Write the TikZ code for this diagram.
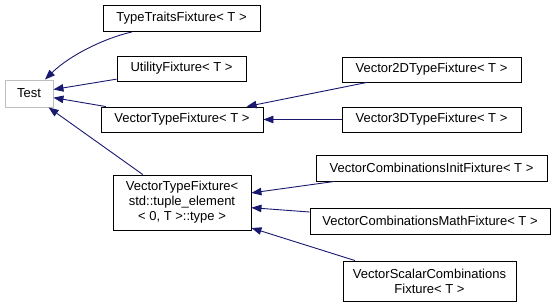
\documentclass[tikz,border=0pt]{standalone}
\usepackage{fontspec}
\setmainfont{Liberation Sans}
\usetikzlibrary{arrows.meta}
\definecolor{edgeblue}{RGB}{25,25,112}
\definecolor{basegray}{RGB}{191,191,191}
\tikzset{
  cls/.style={draw=black, line width=0.9pt, fill=white, inner sep=0pt,
    align=center, font=\fontsize{13pt}{15pt}\selectfont},
  extcls/.style={cls, draw=basegray},
  edge/.style={draw=edgeblue, line width=0.9pt,
    -{Triangle[length=10pt,width=7.5pt]}}
}
\begin{document}
\begin{tikzpicture}[x=1pt, y=-1pt]
  \useasboundingbox (0,0) rectangle (557,306);

  % base class
  \node[extcls, minimum width=48pt, minimum height=27pt] (test) at (29,93.5) {Test};

  % direct subclasses
  \node[cls, minimum width=157pt, minimum height=26pt] (tt) at (181.5,18.5) {TypeTraitsFixture< T >};
  \node[cls, minimum width=129pt, minimum height=25pt] (util) at (181.5,68.5) {UtilityFixture< T >};
  \node[cls, minimum width=162pt, minimum height=25pt] (vt) at (182,119.5) {VectorTypeFixture< T >};
  \node[cls, minimum width=138pt, minimum height=55pt] (tup) at (182,202.5)
    {VectorTypeFixture<\\std::tuple\_element\\< 0, T >::type >};

  % second level
  \node[cls, minimum width=179pt, minimum height=25pt] (v2d) at (431.5,69.5) {Vector2DTypeFixture< T >};
  \node[cls, minimum width=179pt, minimum height=25pt] (v3d) at (431.5,119.5) {Vector3DTypeFixture< T >};
  \node[cls, minimum width=231pt, minimum height=26pt] (cinit) at (431.5,168) {VectorCombinationsInitFixture< T >};
  \node[cls, minimum width=240pt, minimum height=26pt] (cmath) at (430,221) {VectorCombinationsMathFixture< T >};
  \node[cls, minimum width=173pt, minimum height=40pt] (scal) at (429.5,281)
    {VectorScalarCombinations\\Fixture< T >};

  % inheritance edges
  \draw[edge] ([xshift=-49.5pt]tt.south) .. controls (105,38) and (70,55) .. ([xshift=16pt]test.north);
  \draw[edge] (util) -- (test);
  \draw[edge] (vt) -- (test);
  \draw[edge] (tup) -- (test);
  \draw[edge] (v2d) -- (vt);
  \draw[edge] (v3d) -- (vt);
  \draw[edge] (cinit) -- (tup);
  \draw[edge] (cmath) -- (tup);
  \draw[edge] ([xshift=-74.5pt]scal.north) -- ([yshift=-25.5pt]tup.east);
\end{tikzpicture}
\end{document}
